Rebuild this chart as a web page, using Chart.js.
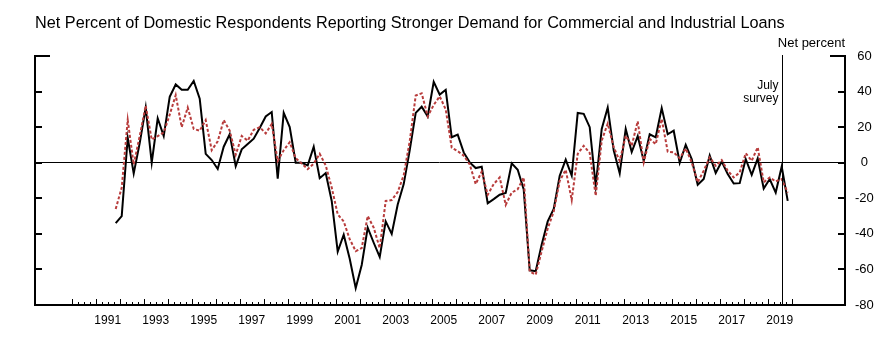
<!DOCTYPE html>
<html><head><meta charset="utf-8">
<script src="https://cdn.jsdelivr.net/npm/chart.js@4.4.1/dist/chart.umd.min.js"></script>
<style>html,body{margin:0;padding:0;background:#fff;}#wrap{width:892px;height:339px;position:relative;}</style>
</head><body><div id="wrap"><canvas id="c"></canvas></div>
<script>
const FONT = "'Liberation Sans', Arial, sans-serif";
// Quarterly survey observations, 1991:Q4 through 2019:Q4
const quarters = [];
for (let yr = 1991, q = 4; quarters.length < 113;) { quarters.push(yr + ':Q' + q); q++; if (q > 4) { q = 1; yr++; } }

// Large and middle-market firms (solid black)
const largeFirms = [-34,-30,14,-6,11,31,0,25,15,37, 44,41,41,46,36,5,1.5,-3.5,9,16,
  -2,7.5,10.5,13.5,19.5,26,28.5,-9,28,20, 0,0,-1.5,9,-8.7,-5.8,-21.5,-50,-40.5,-54,
  -70.5,-57.5,-36.5,-45,-53,-33,-40,-23.5,-12,7, 28,31.5,26,45.5,38.3,41,14.3,15.8,5.8,0.2,
  -3,-2.3,-22.8,-20.5,-18,-17,-0.4,-4,-15,-60.5, -61,-46,-33,-26,-7.3,1.7,-7.3,28,27.5,20,
  -13,19,31,7,-6,19,6,15,1,16, 14.3,30.7,16,18,0,10,2,-12.4,-9.2,4,
  -5.8,0.7,-6.4,-11.7,-11.5,2.1,-6.8,2.4,-14.5,-9.2, -16.8,-2.1,-21.5];
// Small firms (dotted red)
const smallFirms = [-26,-14,24,-1,15,32,13,15,17,27, 38,20,31,19,18,24,7,12,24,18,
  4.5,15,12.4,18.5,20,16.5,21.8,1,7,11.5, 2.5,-0.5,-3.6,-0.5,5,-1.5,-14,-29,-33,-43,
  -49.7,-48,-30,-36.5,-48,-21.5,-21,-16.5,-7,12, 37.8,39,26,32.5,37.3,30,8.5,6.5,4,-1,
  -12,-5,-18,-12,-8.3,-23.7,-16.8,-14.9,-8.3,-61.2, -62.9,-49.7,-37,-27.5,-10.2,-4,-21,5,9.5,5.5,
  -18.6,12.4,22,8.7,1,15.2,9.6,23.3,0.2,13.4, 10.5,24.6,6.2,5.8,2.5,8,0.2,-11,-4.5,3,
  -1.7,1.5,-4.5,-8.3,-5.5,5.3,1.1,8.7,-11,-8.3, -10.5,-9.2,-16.8];
const yearLabels = ['1991','1993','1995','1997','1999','2001','2003','2005','2007','2009','2011','2013','2015','2017','2019'];
const yTickValues = [60,40,20,0,-20,-40,-60,-80];
const titleText = 'Net Percent of Domestic Respondents Reporting Stronger Demand for Commercial and Industrial Loans';
const surveyMark = 2019.6;

function qPos(label) { const [y, q] = label.split(':Q'); return +y + (+q - 1) * 0.25 + 0.083; }
const toPts = arr => arr.map((v, i) => ({ x: qPos(quarters[i]), y: v }));

const deco = {
  id: 'deco',
  afterDraw(chart) {
    const ctx = chart.ctx, xs = chart.scales.x, ys = chart.scales.y, a = chart.chartArea;
    ctx.save();
    ctx.strokeStyle = '#000';
    ctx.lineWidth = 1;
    for (let q = 0; q <= 120; q++) {
      const px = Math.round(xs.getPixelForValue(1990 + q / 4)) + 0.5;
      const len = q % 4 === 0 ? 6 : 3;
      ctx.beginPath(); ctx.moveTo(px, a.bottom); ctx.lineTo(px, a.bottom - len); ctx.stroke();
    }
    ctx.lineWidth = 2;
    yTickValues.forEach(v => {
      if (v === -80) return;
      const py = Math.round(ys.getPixelForValue(v));
      const len = v === 60 ? 15 : 7;
      ctx.beginPath(); ctx.moveTo(a.left, py); ctx.lineTo(a.left + len, py); ctx.stroke();
      ctx.beginPath(); ctx.moveTo(a.right, py); ctx.lineTo(a.right - len, py); ctx.stroke();
    });
    ctx.lineWidth = 1;
    const sx = Math.round(xs.getPixelForValue(surveyMark)) + 0.5;
    ctx.beginPath(); ctx.moveTo(sx, a.top - 1); ctx.lineTo(sx, a.bottom); ctx.stroke();
    ctx.fillStyle = '#000';
    ctx.textAlign = 'right'; ctx.textBaseline = 'alphabetic';
    ctx.font = '12px ' + FONT;
    ctx.fillText('July', sx - 4, 89);
    ctx.fillText('survey', sx - 4, 102);
    ctx.font = '13px ' + FONT;
    ctx.fillText('Net percent', a.right, 47);
    ctx.restore();
  }
};

new Chart(document.getElementById('c'), {
  type: 'line',
  data: {
    datasets: [
      { label: 'Small firms', data: toPts(smallFirms), borderColor: '#b83c3c', borderWidth: 2,
        borderDash: [3, 2], pointRadius: 0, tension: 0, fill: false },
      { label: 'Large and middle-market firms', data: toPts(largeFirms), borderColor: '#000', borderWidth: 2,
        pointRadius: 0, tension: 0, fill: false }
    ]
  },
  options: {
    responsive: true, maintainAspectRatio: false, animation: false,
    layout: { padding: { left: 35, top: 0, right: 0, bottom: 0 } },
    plugins: {
      legend: { display: false }, tooltip: { enabled: false },
      title: { display: true, text: titleText, align: 'start', color: '#000',
        font: { family: FONT, size: 16.25, weight: 'normal' }, padding: { top: 14, bottom: 22.5 } }
    },
    scales: {
      x: {
        type: 'linear', position: 'bottom', min: 1988.47, max: 2022.22,
        afterBuildTicks: s => { s.ticks = yearLabels.map(l => ({ value: +l + 0.5 })); },
        afterFit: s => { s.height = 34; },
        ticks: { autoSkip: false, maxRotation: 0, color: '#000', padding: 0,
          font: { family: FONT, size: 12 }, callback: (v, i) => yearLabels[i] },
        grid: { display: false },
        border: { display: true, color: '#000', width: 2 }
      },
      y: {
        type: 'linear', position: 'right', min: -80, max: 60,
        afterBuildTicks: s => { s.ticks = yTickValues.map(v => ({ value: v })); },
        afterFit: s => { s.width = 47; },
        ticks: { color: '#000', padding: 10, crossAlign: 'center', font: { family: FONT, size: 13 } },
        grid: { drawOnChartArea: true, drawTicks: false, lineWidth: 1,
          color: c => (c.tick && c.tick.value === 0) ? '#000' : 'rgba(0,0,0,0)' },
        border: { display: true, color: '#000', width: 2 }
      },
      yl: {
        type: 'linear', position: 'left', min: -80, max: 60,
        afterFit: s => { s.width = 0; },
        ticks: { display: false }, grid: { display: false },
        border: { display: true, color: '#000', width: 2 }
      }
    }
  },
  plugins: [deco]
});
</script></body></html>
